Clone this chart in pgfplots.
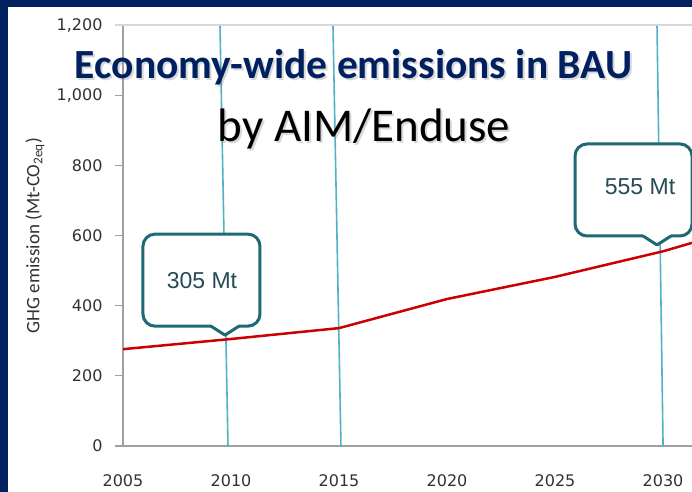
\documentclass[border=0pt]{standalone}
\usepackage{fontspec}
\setmainfont{Carlito}
\newfontfamily\dejavu{DejaVu Sans}
\newfontfamily\arialf{Liberation Sans}
\usepackage{pgfplots}
\usepackage{pgfplotstable}
\pgfplotsset{compat=1.18}
\usetikzlibrary{calc}
\definecolor{navy}{RGB}{0,32,96}
\definecolor{titleblue}{RGB}{0,32,96}
\definecolor{axisgray}{RGB}{160,160,160}
\definecolor{topgray}{RGB}{215,215,215}
\definecolor{tickgray}{RGB}{50,50,50}
\definecolor{tealline}{RGB}{80,178,196}
\definecolor{calloutc}{RGB}{30,105,115}
\definecolor{callouttext}{RGB}{35,75,85}
\definecolor{baured}{RGB}{204,0,0}

\pgfplotstableread{
year value
2005 276
2010 305
2015 336
2020 419
2025 482
2030 555
2031.34 579
}\baudata

\begin{document}
\begin{tikzpicture}
\fill[navy] (0,0) rectangle (692bp,492bp);
\fill[white] (8bp,0) rectangle (692bp,485bp);
\begin{axis}[
  at={(123bp,46bp)}, anchor=south west,
  scale only axis, width=569bp, height=421bp,
  xmin=2005, xmax=2031.34, ymin=0, ymax=1200,
  axis x line*=bottom, axis y line*=left,
  axis line style={draw=axisgray, line width=1.4bp, -},
  xtick={2005,2010,2015,2020,2025,2030},
  xticklabels={2005,2010,2015,2020,2025,2030},
  ytick={0,200,400,600,800,1000,1200},
  yticklabels={0,200,400,600,800,{1,000},{1,200}},
  tick align=outside,
  major tick length=8bp,
  xtick style={draw=none},
  ytick style={draw=axisgray, line width=1.2bp},
  tick label style={font=\dejavu\fontsize{16bp}{18bp}\selectfont, text=tickgray},
  xticklabel style={yshift=-17bp},
  yticklabel style={xshift=-9bp},
  ylabel={GHG emission (Mt-CO\textsubscript{2eq})},
  ylabel style={at={(axis description cs:-0.1547,0.5)}, anchor=center, font=\fontsize{19bp}{22bp}\selectfont, text=tickgray},
  clip=false,
]
\addplot[tealline, line width=1.6bp] coordinates {(2009.86,0) (2009.49,1200)};
\addplot[tealline, line width=1.6bp] coordinates {(2015.09,0) (2014.72,1200)};
\addplot[tealline, line width=1.6bp] coordinates {(2030.0,0) (2029.72,1200)};
\addplot[baured, line width=2.5bp] table[x=year,y=value]{\baudata};
\coordinate (TL) at (axis cs:2005,1200);
\coordinate (TR) at (axis cs:2031.34,1200);
\coordinate (T1) at (axis cs:2009.72,316);
\coordinate (T2) at (axis cs:2029.72,573);
\end{axis}
\draw[topgray, line width=1.4bp] ($(TL)+(-8bp,0)$) -- (TR);
% callouts
\foreach \T in {T1,T2}{
  \draw[calloutc, line width=3bp, fill=white, rounded corners=12bp] ($(\T)+(-82bp,9bp)$) rectangle ($(\T)+(35bp,101bp)$);
  \fill[white] ($(\T)+(-14bp,7.2bp)$) rectangle ($(\T)+(14bp,10.8bp)$);
  \fill[white] ($(\T)+(-14bp,9bp)$) -- (\T) -- ($(\T)+(14bp,9bp)$) -- cycle;
  \draw[calloutc, line width=3bp, line join=round, line cap=round] ($(\T)+(-14bp,9bp)$) -- (\T) -- ($(\T)+(14bp,9bp)$);
}
\node[font=\arialf\fontsize{23bp}{26bp}\selectfont, text=callouttext] at ($(T1)+(-23bp,55bp)$) {305 Mt};
\node[font=\arialf\fontsize{23bp}{26bp}\selectfont, text=callouttext] at ($(T2)+(-17bp,58bp)$) {555 Mt};
% title
\node[font=\bfseries\fontsize{41.5bp}{46bp}\selectfont, text=black!50, opacity=0.3, anchor=base] at (355.5bp,411.5bp) {Economy-wide emissions in BAU};
\node[font=\bfseries\fontsize{41.5bp}{46bp}\selectfont, text=titleblue, anchor=base] at (353.5bp,413bp) {Economy-wide emissions in BAU};
\node[font=\fontsize{47bp}{52bp}\selectfont, text=black!50, opacity=0.3, anchor=base] at (366bp,348.5bp) {by AIM/Enduse};
\node[font=\fontsize{47bp}{52bp}\selectfont, text=black, anchor=base] at (364bp,350bp) {by AIM/Enduse};
\pgfresetboundingbox
\useasboundingbox (0,0) rectangle (692bp,492bp);
\end{tikzpicture}
\end{document}
